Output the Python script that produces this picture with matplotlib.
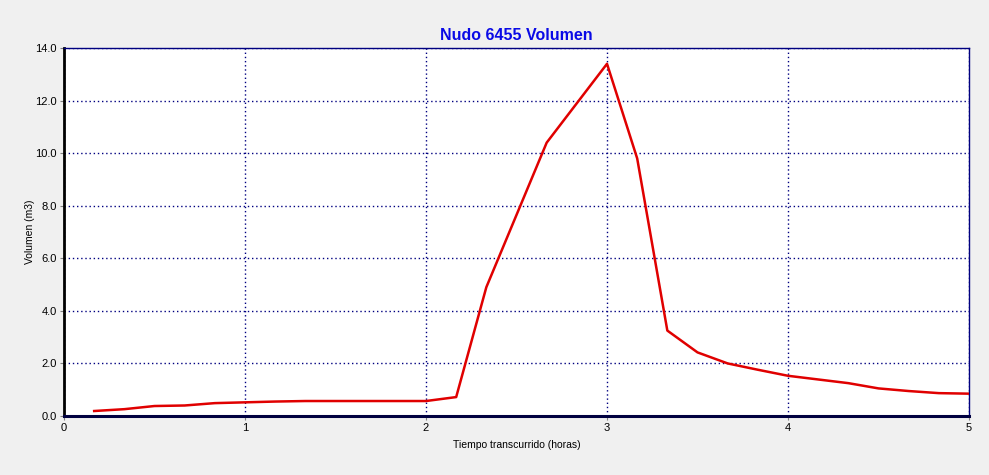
import numpy as np
import matplotlib.pyplot as plt

# ------------------ Data ------------------
tiempo = [0.1667, 0.3333, 0.5, 0.6667, 0.8333, 1.0, 1.1667, 1.3333, 1.5, 1.6667,
          1.8333, 2.0, 2.1667, 2.3333, 2.5, 2.6667, 2.8333, 3.0, 3.1667, 3.3333,
          3.5, 3.6667, 3.8333, 4.0, 4.1667, 4.3333, 4.5, 4.6667, 4.8333, 5.0]
volumen = [0.19, 0.26, 0.38, 0.40, 0.49, 0.52, 0.55, 0.57, 0.57, 0.57,
           0.57, 0.57, 0.72, 4.9, 7.65, 10.4, 11.9, 13.4, 9.8, 3.25,
           2.42, 2.0, 1.76, 1.53, 1.39, 1.25, 1.05, 0.95, 0.87, 0.85]

x_ticks = [0, 1, 2, 3, 4, 5]
y_ticks = [0, 2, 4, 6, 8, 10, 12, 14]

plt.rcParams['font.family'] = ['Liberation Sans', 'DejaVu Sans']

fig = plt.figure(figsize=(9.89, 4.75), dpi=100, facecolor='#f0f0f0')
ax = fig.add_axes([0.0647, 0.1242, 0.9151, 0.7747])
ax.set_facecolor('white')

ax.plot(tiempo, volumen, color='#e00000', linewidth=1.8, zorder=3)

ax.set_xlim(0, 5)
ax.set_ylim(0, 14)
ax.set_xticks(x_ticks)
ax.set_yticks(y_ticks)
ax.set_xticklabels([str(t) for t in x_ticks])
ax.set_yticklabels([f"{t:.1f}" for t in y_ticks])
ax.tick_params(axis='both', labelsize=8, length=3, width=0.8, color='#808080', pad=2)

ax.grid(True, color='#000080', linestyle=(0, (1, 2)), linewidth=1.0)

# borders
ax.spines['left'].set_color('black')
ax.spines['left'].set_linewidth(2)
ax.spines['bottom'].set_color('#000040')
ax.spines['bottom'].set_linewidth(2.2)
ax.spines['top'].set_color('#000080')
ax.spines['top'].set_linewidth(1)
ax.spines['right'].set_color('#000080')
ax.spines['right'].set_linewidth(1)

ax.set_title('Nudo 6455 Volumen', color='#0a0ae6', fontsize=11.5,
             fontweight='bold', pad=6)
ax.set_xlabel('Tiempo transcurrido (horas)', fontsize=7.5, labelpad=5)
ax.set_ylabel('Volumen (m3)', fontsize=7.5, labelpad=0)

fig.savefig('out.png', dpi=100, facecolor=fig.get_facecolor())
